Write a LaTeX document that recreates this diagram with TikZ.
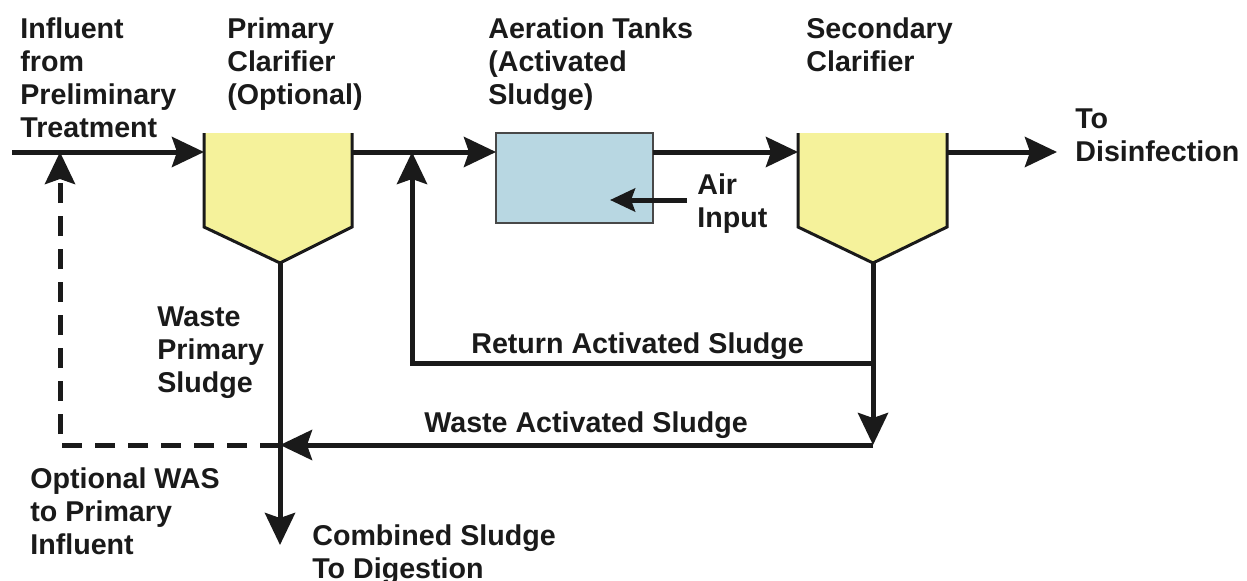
\documentclass[tikz,border=0pt]{standalone}
\usepackage{fontspec}
\setmainfont{Liberation Sans}
\usetikzlibrary{arrows.meta, positioning}

\definecolor{clarifieryellow}{RGB}{245,242,155}
\definecolor{tankblue}{RGB}{184,215,226}
\definecolor{inkgray}{RGB}{26,26,26}

\tikzset{
  pipe/.style={line width=0.1cm, draw=inkgray},
  flow/.style={pipe, -{Stealth[length=0.64cm, width=0.6cm, inset=0.1cm]}},
  airflow/.style={pipe, -{Stealth[length=0.5cm, width=0.46cm, inset=0.08cm]}},
  optflow/.style={flow, dash pattern=on 0.4cm off 0.26cm},
  txt/.style={inner sep=0, anchor=north west, align=left, text=inkgray,
    font=\bfseries\fontsize{16.3}{18.8}\selectfont},
  basin/.style={line width=0.06cm, draw=inkgray},
}

\begin{document}
\begin{tikzpicture}[x=0.02cm, y=-0.02cm]
    \useasboundingbox (0,0) rectangle (1247,581);

    % Clarifiers (primary and secondary)
    \coordinate (pc-bot) at (280,263);
    \coordinate (sc-bot) at (873,263);
    \fill[clarifieryellow] (204,133) -- (204,227) -- (pc-bot) -- (352,227) -- (352,133) -- cycle;
    \draw[basin] (204,133) -- (204,227) -- (pc-bot) -- (352,227) -- (352,133);
    \fill[clarifieryellow] (798,133) -- (798,227) -- (sc-bot) -- (947,227) -- (947,133) -- cycle;
    \draw[basin] (798,133) -- (798,227) -- (sc-bot) -- (947,227) -- (947,133);

    % Aeration tank
    \node[draw=inkgray!80, line width=0.04cm, fill=tankblue, inner sep=0,
          minimum width=3.14cm, minimum height=1.8cm] (tank) at (574.5,178) {};

    % Points on the main line
    \coordinate (src) at (12,152);
    \coordinate (pc-in) at (204,152);
    \coordinate (pc-out) at (352,152);
    \coordinate (tank-in) at (496,152);
    \coordinate (tank-out) at (653,152);
    \coordinate (sc-in) at (798,152);
    \coordinate (sc-out) at (947,152);
    \coordinate (dis) at (1057,152);

    % Sludge lines
    \coordinate (ras-right) at (873,363);
    \coordinate (ras-left) at (412,363);
    \coordinate (ras-top) at (412,152);
    \coordinate (was-right) at (873,445);
    \coordinate (was-join) at (280,445);
    \coordinate (sludge-end) at (280,545);
    \coordinate (opt-corner) at (60,445);
    \coordinate (opt-top) at (60,152);
    \coordinate (air-src) at (687,200);
    \coordinate (air-tip) at (610,200);

    % Main flow
    \draw[flow] (src) -- (pc-in);
    \draw[flow] (pc-out) -- (tank-in);
    \draw[flow] (tank-out) -- (sc-in);
    \draw[flow] (sc-out) -- (dis);
    \draw[airflow] (air-src) -- (air-tip);

    % Return, waste and combined sludge
    \draw[flow] (sc-bot) -- (ras-right) -- (ras-left) -- (ras-top);
    \draw[flow] (ras-right) -- (was-right);
    \draw[flow] (was-right) -- (was-join);
    \draw[flow] (pc-bot) -- (sludge-end);
    \draw[optflow] (was-join) -- (opt-corner) -- (opt-top);

    % Labels
    \node[txt] (influent) at (20,17) {Influent\\from\\Preliminary\\Treatment};
    \node[txt] (primary) at (227,17) {Primary\\Clarifier\\(Optional)};
    \node[txt] (aeration) at (488,17) {Aeration Tanks\\(Activated\\Sludge)};
    \node[txt] (secondary) at (806,17) {Secondary\\Clarifier};
    \node[txt] (disinfect) at (1075,108) {To\\Disinfection};
    \node[txt] (air) at (697,173) {Air\\Input};
    \node[txt] (wps) at (157,306) {Waste\\Primary\\Sludge};
    \node[txt] (ras) at (471,332) {Return Activated Sludge};
    \node[txt] (was) at (424,411) {Waste Activated Sludge};
    \node[txt] (optwas) at (30,467) {Optional WAS\\to Primary\\Influent};
    \node[txt] (combined) at (312,524) {Combined Sludge\\To Digestion};
\end{tikzpicture}
\end{document}
